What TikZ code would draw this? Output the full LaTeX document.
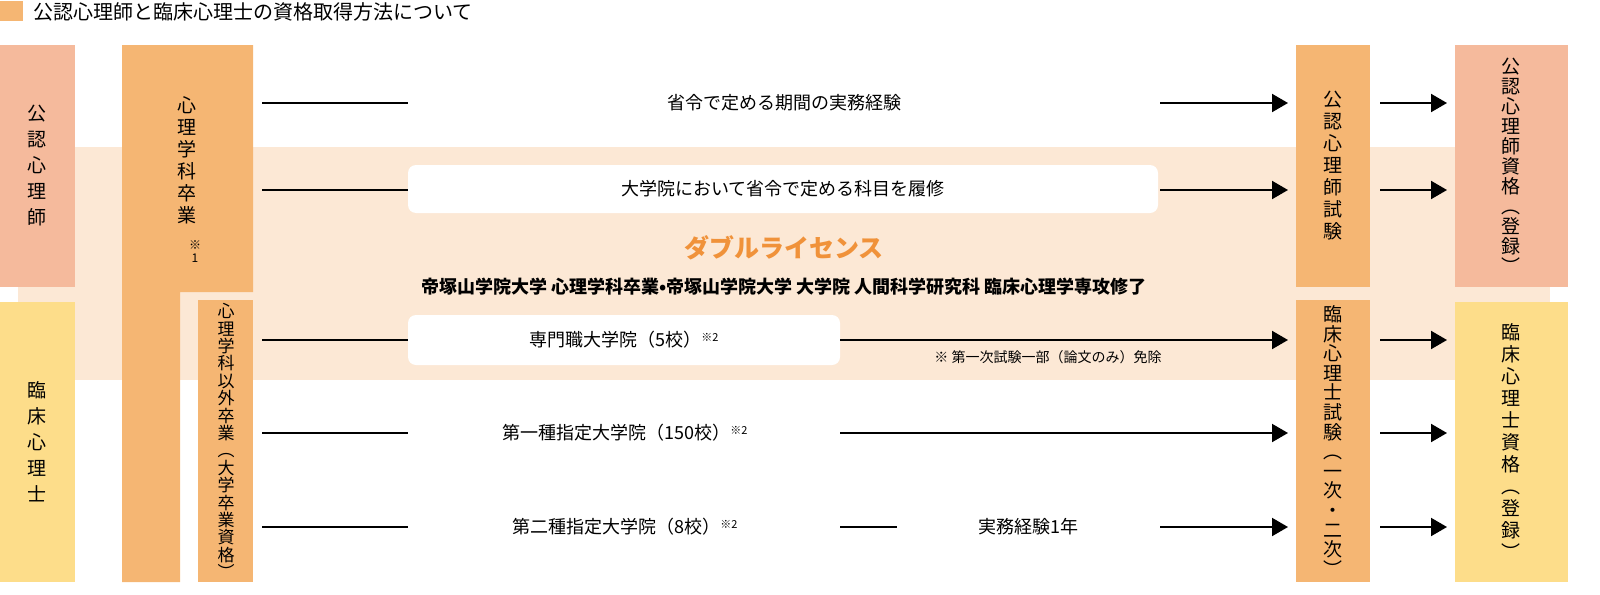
\documentclass[tikz,border=0pt]{standalone}
\usepackage{fontspec}
\setmainfont{Noto Sans CJK JP}
\usetikzlibrary{arrows.meta}
\definecolor{kounin}{HTML}{F5BA9C}
\definecolor{rinsho}{HTML}{FDDD8A}
\definecolor{grad}{HTML}{F5B673}
\definecolor{band}{HTML}{FCE8D5}
\definecolor{dbl}{HTML}{F0923A}
\tikzset{
  vbox/.style={inner sep=0pt, align=center, font=\fontsize{9.5pt}{10pt}\selectfont},
  plain/.style={font=\fontsize{9pt}{11pt}\selectfont, inner sep=0pt},
  pill/.style={fill=white, rounded corners=4pt, inner sep=0pt},
  line/.style={line width=1pt},
  arr/.style={line width=1pt, -{Triangle[length=8pt,width=9pt]}}
}
\begin{document}
\begin{tikzpicture}[x=0.5pt,y=-0.5pt]
  \useasboundingbox (0,0) rectangle (1600,594);
  % title
  \fill[grad] (0,1) rectangle (23,21);
  \node[anchor=west, font=\fontsize{10pt}{12pt}\selectfont, inner sep=0pt] (title) at (33,12) {公認心理師と臨床心理士の資格取得方法について};
  % band
  \fill[band] (18,147) rectangle (1550,380);
  % left boxes
  \fill[kounin] (0,45) rectangle (75,287);
  \fill[rinsho] (0,302) rectangle (75,582);
  \fill[grad] (122,45) rectangle (253,292) (122,292) rectangle (180,582);
  \fill[grad] (198,300) rectangle (253,582);
  \node[vbox, font=\fontsize{9.5pt}{13pt}\selectfont] (koL) at (37,166) {公\\認\\心\\理\\師};
  \node[vbox, font=\fontsize{9.5pt}{13pt}\selectfont] (riL) at (37,442) {臨\\床\\心\\理\\士};
  \node[vbox, font=\fontsize{9.5pt}{11pt}\selectfont] (psy) at (187,160) {心\\理\\学\\科\\卒\\業};
  \node[font=\fontsize{6pt}{6.5pt}\selectfont, align=center, inner sep=0pt] (note1) at (195,252) {※\\1};
  \node[vbox, font=\fontsize{8.5pt}{8.7pt}\selectfont] (oth) at (226,441) {心\\理\\学\\科\\以\\外\\卒\\業\\︵\\大\\学\\卒\\業\\資\\格\\︶};
  % exams and licences
  \fill[grad] (1296,45) rectangle (1370,287);
  \fill[grad] (1296,300) rectangle (1370,582);
  \fill[kounin] (1455,45) rectangle (1568,287);
  \fill[rinsho] (1455,302) rectangle (1568,582);
  \node[vbox, font=\fontsize{9.5pt}{11pt}\selectfont] (exK) at (1333,166) {公\\認\\心\\理\\師\\試\\験};
  \node[vbox, font=\fontsize{9.5pt}{9.8pt}\selectfont] (exR) at (1333,441) {臨\\床\\心\\理\\士\\試\\験\\︵\\一\\次\\・\\二\\次\\︶};
  \node[vbox] (liK) at (1511,166) {公\\認\\心\\理\\師\\資\\格\\︵\\登\\録\\︶};
  \node[vbox, font=\fontsize{9.5pt}{11pt}\selectfont] (liR) at (1511,442) {臨\\床\\心\\理\\士\\資\\格\\︵\\登\\録\\︶};
  % middle texts
  \node[plain] (exp) at (784,103) {省令で定める期間の実務経験};
  \node[pill, minimum width=375pt, minimum height=24pt] (course) at (783,189) {};
  \node[plain] at (course) {大学院において省令で定める科目を履修};
  \node[font=\bfseries\fontsize{12.5pt}{14pt}\selectfont, text=dbl, inner sep=0pt] (dbltitle) at (784,248) {ダブルライセンス};
  \node[font=\bfseries\fontsize{9pt}{11pt}\selectfont, inner sep=0pt] (dblsub) at (784,287) {帝塚山学院大学 心理学科卒業•帝塚山学院大学 大学院 人間科学研究科 臨床心理学専攻修了};
  \node[pill, minimum width=216pt, minimum height=25pt] (prof) at (624,340) {};
  \node[plain] at (prof) {専門職大学院（5校）\raisebox{0.5ex}{\fontsize{5.5pt}{6pt}\selectfont ※2}};
  \node[font=\fontsize{7pt}{8pt}\selectfont, inner sep=0pt] (note2) at (1048,357) {※ 第一次試験一部（論文のみ）免除};
  \node[plain] (first) at (625,433) {第一種指定大学院（150校）\raisebox{0.5ex}{\fontsize{5.5pt}{6pt}\selectfont ※2}};
  \node[plain] (second) at (625,527) {第二種指定大学院（8校）\raisebox{0.5ex}{\fontsize{5.5pt}{6pt}\selectfont ※2}};
  \node[plain] (one) at (1028,527) {実務経験1年};
  % line ends
  \foreach \n/\y in {a/103,b/190,c/340,d/433,e/527}{
    \coordinate (s\n) at (262,\y);
    \coordinate (t\n) at (408,\y);
    \coordinate (x\n) at (1288,\y);
    \coordinate (y\n) at (1380,\y);
    \coordinate (z\n) at (1447,\y);
  }
  \coordinate (ua) at (1160,103);
  \coordinate (ub) at (1160,190);
  \coordinate (uc) at (840,340);
  \coordinate (ud) at (840,433);
  \coordinate (ue) at (840,527);
  \coordinate (ve) at (897,527);
  \coordinate (we) at (1160,527);
  % connectors
  \foreach \n in {a,b,c,d,e}{
    \draw[line] (s\n) -- (t\n);
    \draw[arr] (y\n) -- (z\n);
  }
  \draw[arr] (ua) -- (xa);
  \draw[arr] (ub) -- (xb);
  \draw[arr] (uc) -- (xc);
  \draw[arr] (ud) -- (xd);
  \draw[line] (ue) -- (ve);
  \draw[arr] (we) -- (xe);
\end{tikzpicture}
\end{document}
